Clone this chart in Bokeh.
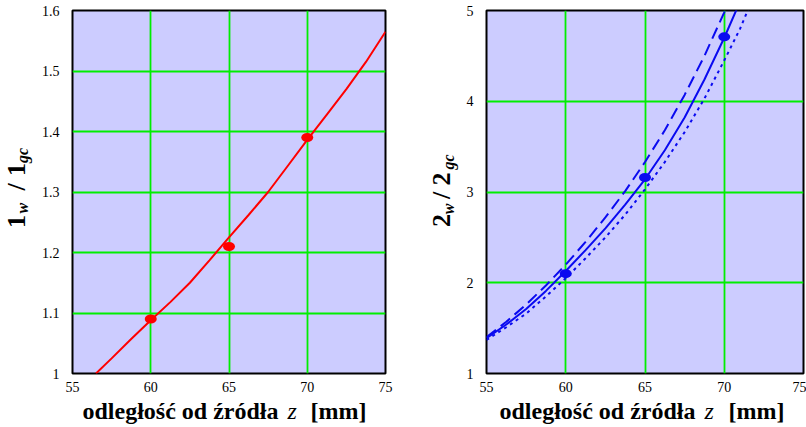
import math
from bokeh.plotting import figure
from bokeh.models import Range1d, FixedTicker, Label
from bokeh.layouts import row, column
from bokeh.embed import file_html
from bokeh.resources import INLINE

# ---------------- data ----------------
x_ticks = [55, 60, 65, 70, 75]
left_y_ticks = [1.0, 1.1, 1.2, 1.3, 1.4, 1.5, 1.6]
left_y_tick_labels = ["1", "1.1", "1.2", "1.3", "1.4", "1.5", "1.6"]
right_y_ticks = [1, 2, 3, 4, 5]
right_y_tick_labels = ["1", "2", "3", "4", "5"]

left_curve_z = [56.5, 57.5, 58.75, 60.0, 61.25, 62.5, 63.75, 65.0, 66.25, 67.5,
                68.75, 70.0, 71.25, 72.5, 73.75, 75.0]
left_curve_ratio = [1.0, 1.025, 1.057, 1.088, 1.118, 1.15, 1.187, 1.225, 1.262, 1.30,
                    1.343, 1.386, 1.428, 1.47, 1.515, 1.565]
left_points_z = [60, 65, 70]
left_points_ratio = [1.09, 1.21, 1.39]

right_solid_z = [55.0, 56.25, 57.5, 58.75, 60.0, 61.25, 62.5, 63.75, 65.0, 66.25, 67.5,
                 68.75, 70.0, 71.0]
right_solid_ratio = [1.39, 1.54, 1.71, 1.91, 2.13, 2.36, 2.60, 2.86, 3.14, 3.46, 3.82,
                     4.24, 4.70, 5.10]
right_dash_z = [55.0, 56.25, 57.5, 58.75, 60.0, 61.25, 62.5, 63.75, 65.0, 66.25, 67.5,
                68.75, 70.0, 70.3]
right_dash_ratio = [1.40, 1.57, 1.76, 1.97, 2.20, 2.45, 2.72, 3.01, 3.33, 3.68, 4.07,
                    4.50, 4.98, 5.10]
right_dot_z = [55.0, 56.25, 57.5, 58.75, 60.0, 61.25, 62.5, 63.75, 65.0, 66.25, 67.5,
               68.75, 70.0, 71.0, 71.6]
right_dot_ratio = [1.37, 1.51, 1.66, 1.85, 2.05, 2.27, 2.50, 2.75, 3.03, 3.33, 3.66,
                   4.03, 4.45, 4.80, 5.05]
right_points_z = [60, 65, 70]
right_points_ratio = [2.10, 3.16, 4.71]

x_label_parts = ["odległość od źródła", "z", "[mm]"]
left_y_label_parts = ["1", "w", "/", "1", "gc"]
right_y_label_parts = ["2", "w", "/", "2", "gc"]

SERIF = "'Liberation Serif', 'Times New Roman', Times, 'DejaVu Serif', serif"
BLUE = "#0a0af0"
GRID = "#00ee00"
TOP_H = 400
BOT_H = 26


def make_fig(width, border_left, border_right, y_lo, y_hi, y_ticks, y_labels):
    p = figure(width=width, height=TOP_H, x_range=Range1d(55, 75), y_range=Range1d(y_lo, y_hi),
               output_backend="svg", toolbar_location=None,
               min_border_left=border_left, min_border_right=border_right,
               min_border_top=10, min_border_bottom=TOP_H - 373)
    p.background_fill_color = "#ccccff"
    p.border_fill_color = "white"
    p.outline_line_color = "black"
    p.outline_line_width = 2
    p.xaxis.ticker = FixedTicker(ticks=x_ticks)
    p.yaxis.ticker = FixedTicker(ticks=y_ticks)
    overrides = {}
    for t, l in zip(y_ticks, y_labels):
        overrides[t] = l
    p.yaxis.major_label_overrides = overrides
    for ax in p.axis:
        ax.axis_line_color = None
        ax.major_tick_line_color = None
        ax.minor_tick_line_color = None
        ax.major_tick_out = 0
        ax.major_tick_in = 0
        ax.major_label_text_font = SERIF
        ax.major_label_text_font_size = "14px"
        ax.major_label_text_color = "black"
    p.xaxis.major_label_standoff = 8
    p.yaxis.major_label_standoff = 13
    p.grid.grid_line_color = GRID
    p.grid.grid_line_width = 1.8
    return p


def blank(width, height):
    b = figure(width=width, height=height, x_range=Range1d(0, 1), y_range=Range1d(0, 1),
               output_backend="svg", toolbar_location=None, x_axis_type=None, y_axis_type=None,
               min_border=0)
    b.outline_line_color = None
    b.background_fill_color = "white"
    b.border_fill_color = "white"
    b.grid.visible = False
    return b


def add_xlabel(b, xs):
    styles = ["bold", "italic", "bold"]
    for txt, x0, st in zip(x_label_parts, xs, styles):
        b.add_layout(Label(x=x0, y=16, x_units="screen", y_units="screen", text=txt,
                           text_font=SERIF, text_font_size="24px", text_font_style=st,
                           text_color="black", text_align="left", text_baseline="middle"))


def add_ylabel(b, parts, centers):
    for txt, (cx, cy) in zip(parts, centers):
        sub = txt in ("w", "gc")
        b.add_layout(Label(x=cx, y=cy, x_units="screen", y_units="screen",
                           text=txt, angle=math.pi / 2, text_font=SERIF,
                           text_font_size="16px" if sub else "26px",
                           text_font_style="bold italic" if sub else "bold",
                           text_color="black", text_align="center", text_baseline="middle"))


# ---------------- left ----------------
ylab1 = blank(34, TOP_H)
add_ylabel(ylab1, left_y_label_parts,
           [(16.2, 152), (22.1, 165.3), (16.2, 186.5), (16.2, 204), (22.1, 218)])

p1 = make_fig(366, 38, 15, 1.0, 1.6, left_y_ticks, left_y_tick_labels)
p1.line(left_curve_z, left_curve_ratio, line_color="red", line_width=2)
p1.ellipse(left_points_z, left_points_ratio, width=12, height=9, width_units="screen",
           height_units="screen", fill_color="red", line_color=None)

# ---------------- right ----------------
ylab2 = blank(60, TOP_H)
add_ylabel(ylab2, right_y_label_parts,
           [(41.2, 153), (47.6, 164.5), (41.2, 178), (41.2, 194.5), (47.6, 211.5)])

p2 = make_fig(346, 26, 3, 1, 5, right_y_ticks, right_y_tick_labels)
p2.line(right_dash_z, right_dash_ratio, line_color=BLUE, line_width=2, line_dash="12 6")
p2.line(right_dot_z, right_dot_ratio, line_color=BLUE, line_width=2, line_dash="3 4")
p2.line(right_solid_z, right_solid_ratio, line_color=BLUE, line_width=2)
p2.ellipse(right_points_z, right_points_ratio, width=12, height=9, width_units="screen",
           height_units="screen", fill_color=BLUE, line_color=None)

xlab1 = blank(400, BOT_H)
add_xlabel(xlab1, [82, 287, 310])
xlab2 = blank(406, BOT_H)
add_xlabel(xlab2, [99, 304, 328])

layout = column(row(ylab1, p1, ylab2, p2), row(xlab1, xlab2))
open("out.html", "w").write(file_html(layout, INLINE))
